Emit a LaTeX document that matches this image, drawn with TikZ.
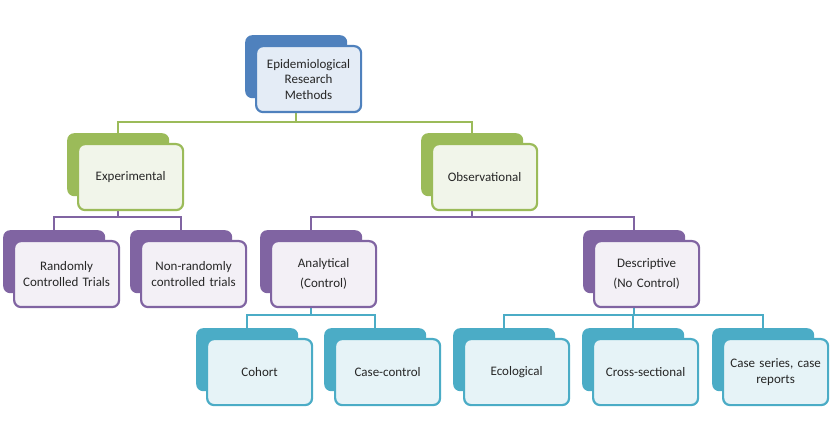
\documentclass[tikz,border=0pt]{standalone}
\usepackage{fontspec}
\setmainfont{Carlito}
\pgfdeclarelayer{bg}
\pgfsetlayers{bg,main}
\definecolor{cblue}{HTML}{4F81BD}
\definecolor{fblue}{HTML}{E4ECF6}
\definecolor{cgreen}{HTML}{9BBB59}
\definecolor{fgreen}{HTML}{F1F5EA}
\definecolor{cpurple}{HTML}{8064A2}
\definecolor{fpurple}{HTML}{F3F0F6}
\definecolor{cteal}{HTML}{4BACC6}
\definecolor{fteal}{HTML}{E6F3F7}
\definecolor{ctext}{HTML}{262626}
\tikzset{
  bbox/.style={draw=none, rounded corners=7pt, anchor=north west,
    minimum width=102pt, minimum height=63pt, inner sep=0pt},
  fbox/.style={line width=2.2pt, rounded corners=7pt, anchor=north west,
    minimum width=105pt, minimum height=66pt, inner sep=0pt,
    text width=103pt, align=center, text=ctext,
    font=\fontsize{13}{15.5}\selectfont},
  conn/.style={line width=2.2pt},
}
\newcommand\dbox[6]{%
  \node[bbox, fill=#4] (#1b) at (#2,#3) {};
  \node[fbox, draw=#4, fill=#5] (#1) at ({#2+10},{#3+10}) {#6};
}
\begin{document}
\begin{tikzpicture}[x=1pt,y=-1pt]
\useasboundingbox (0,0) rectangle (830,438);
\dbox{top}{245}{35}{cblue}{fblue}{Epidemiological\\Research\\Methods}
\dbox{exp}{67}{133}{cgreen}{fgreen}{Experimental}
\dbox{obs}{421}{133}{cgreen}{fgreen}{Observational}
\dbox{rct}{3}{230}{cpurple}{fpurple}{Randomly\\Controlled Trials}
\dbox{nrt}{130}{230}{cpurple}{fpurple}{Non-randomly\\controlled trials}
\dbox{ana}{260}{230}{cpurple}{fpurple}{Analytical\\[4.5pt](Control)}
\dbox{des}{583}{230}{cpurple}{fpurple}{Descriptive\\[4.5pt](No Control)}
\dbox{coh}{196}{328}{cteal}{fteal}{Cohort}
\dbox{cc}{324}{328}{cteal}{fteal}{Case-control}
\dbox{eco}{453}{328}{cteal}{fteal}{Ecological}
\dbox{cs}{582}{328}{cteal}{fteal}{Cross-sectional}
\dbox{csr}{712}{328}{cteal}{fteal}{Case series, case\\reports}
\coordinate (g) at (0,122);
\coordinate (p) at (0,217);
\coordinate (t) at (0,315);
\begin{pgfonlayer}{bg}
\draw[conn, cgreen] (topb.center) -- (topb.center |- g) -| (expb.center);
\draw[conn, cgreen] (topb.center |- g) -| (obsb.center);
\draw[conn, cpurple] (expb.center) -- (expb.center |- p) -| (rctb.center);
\draw[conn, cpurple] (expb.center |- p) -| (nrtb.center);
\draw[conn, cpurple] (obsb.center) -- (obsb.center |- p) -| (anab.center);
\draw[conn, cpurple] (obsb.center |- p) -| (desb.center);
\draw[conn, cteal] (anab.center) -- (anab.center |- t) -| (cohb.center);
\draw[conn, cteal] (anab.center |- t) -| (ccb.center);
\draw[conn, cteal] (desb.center) -- (desb.center |- t) -| (ecob.center);
\draw[conn, cteal] (desb.center |- t) -| (csb.center);
\draw[conn, cteal] (desb.center |- t) -| (csrb.center);
\end{pgfonlayer}
\end{tikzpicture}
\end{document}
